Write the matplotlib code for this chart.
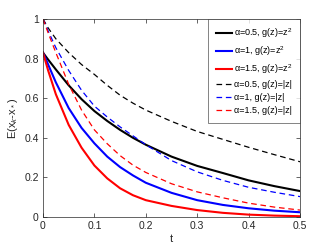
import matplotlib
matplotlib.use('Agg')
import matplotlib.pyplot as plt

plt.rcParams['font.family'] = ['Liberation Sans', 'DejaVu Sans']
plt.rcParams['mathtext.fontset'] = 'custom'
plt.rcParams['mathtext.rm'] = 'Liberation Sans'
plt.rcParams['mathtext.it'] = 'Liberation Sans:italic'

# values
t = [0, 0.01, 0.025, 0.05, 0.075, 0.1, 0.125, 0.15, 0.175, 0.2, 0.25, 0.3, 0.35, 0.4, 0.45, 0.5]

a05_sq = [0.83, 0.795, 0.745, 0.665, 0.595, 0.535, 0.485, 0.44, 0.4, 0.365, 0.305, 0.258, 0.222, 0.185, 0.156, 0.131]
a1_sq = [0.83, 0.77, 0.68, 0.55, 0.45, 0.372, 0.305, 0.252, 0.21, 0.173, 0.122, 0.085, 0.061, 0.044, 0.032, 0.024]
a15_sq = [0.83, 0.74, 0.62, 0.465, 0.35, 0.26, 0.195, 0.145, 0.11, 0.085, 0.056, 0.035, 0.021, 0.012, 0.007, 0.004]

a05_abs = [1.0, 0.955, 0.9, 0.83, 0.77, 0.72, 0.665, 0.615, 0.575, 0.54, 0.483, 0.432, 0.392, 0.352, 0.315, 0.279]
a1_abs = [1.0, 0.94, 0.855, 0.74, 0.64, 0.56, 0.505, 0.455, 0.41, 0.365, 0.285, 0.228, 0.185, 0.15, 0.125, 0.103]
a15_abs = [1.0, 0.93, 0.83, 0.67, 0.54, 0.44, 0.37, 0.31, 0.262, 0.225, 0.168, 0.127, 0.097, 0.07, 0.05, 0.035]

xticks = [0, 0.1, 0.2, 0.3, 0.4, 0.5]
xticklabels = ['0', '0.1', '0.2', '0.3', '0.4', '0.5']
yticks = [0, 0.2, 0.4, 0.6, 0.8, 1]
yticklabels = ['0', '0.2', '0.4', '0.6', '0.8', '1']

fig = plt.figure(figsize=(3.32, 2.47), dpi=100)
ax = fig.add_axes([43/332, 1-217/247, 257/332, 198/247])

dash = (4.5, 3)
ax.plot(t, a05_sq, color='k', lw=1.5, label='α=0.5, g(z)=z$^2$')
ax.plot(t, a1_sq, color='b', lw=1.5, label='α=1, g(z)=z$^2$')
ax.plot(t, a15_sq, color='r', lw=1.5, label='α=1.5, g(z)=z$^2$')
ax.plot(t, a05_abs, color='k', lw=0.9, ls='--', dashes=dash, label='α=0.5, g(z)=|z|')
ax.plot(t, a1_abs, color='b', lw=0.9, ls='--', dashes=dash, label='α=1, g(z)=|z|')
ax.plot(t, a15_abs, color='r', lw=0.9, ls='--', dashes=dash, label='α=1.5, g(z)=|z|')

ax.set_xlim(0, 0.5)
ax.set_ylim(0, 1)
ax.set_xticks(xticks)
ax.set_xticklabels(xticklabels)
ax.set_yticks(yticks)
ax.set_yticklabels(yticklabels)
ax.tick_params(direction='in', top=True, right=True, length=3, width=0.5,
               colors='0.15', labelsize=7.5, pad=3)
for s in ax.spines.values():
    s.set_linewidth(0.5)
    s.set_color('0.15')

ax.set_xlabel('t', fontsize=8, color='0.15', labelpad=2)
ax.set_ylabel('E(x$_k$-x$_*$)', fontsize=8, color='0.15', labelpad=3)

leg = ax.legend(loc='upper right', fontsize=6.5, frameon=True, fancybox=False,
                borderaxespad=0, handlelength=1.8, handletextpad=0.2,
                labelspacing=0.45, borderpad=0.85)
leg.get_frame().set_edgecolor('0.15')
leg.get_frame().set_linewidth(0.5)

fig.savefig('out.png', dpi=100)
